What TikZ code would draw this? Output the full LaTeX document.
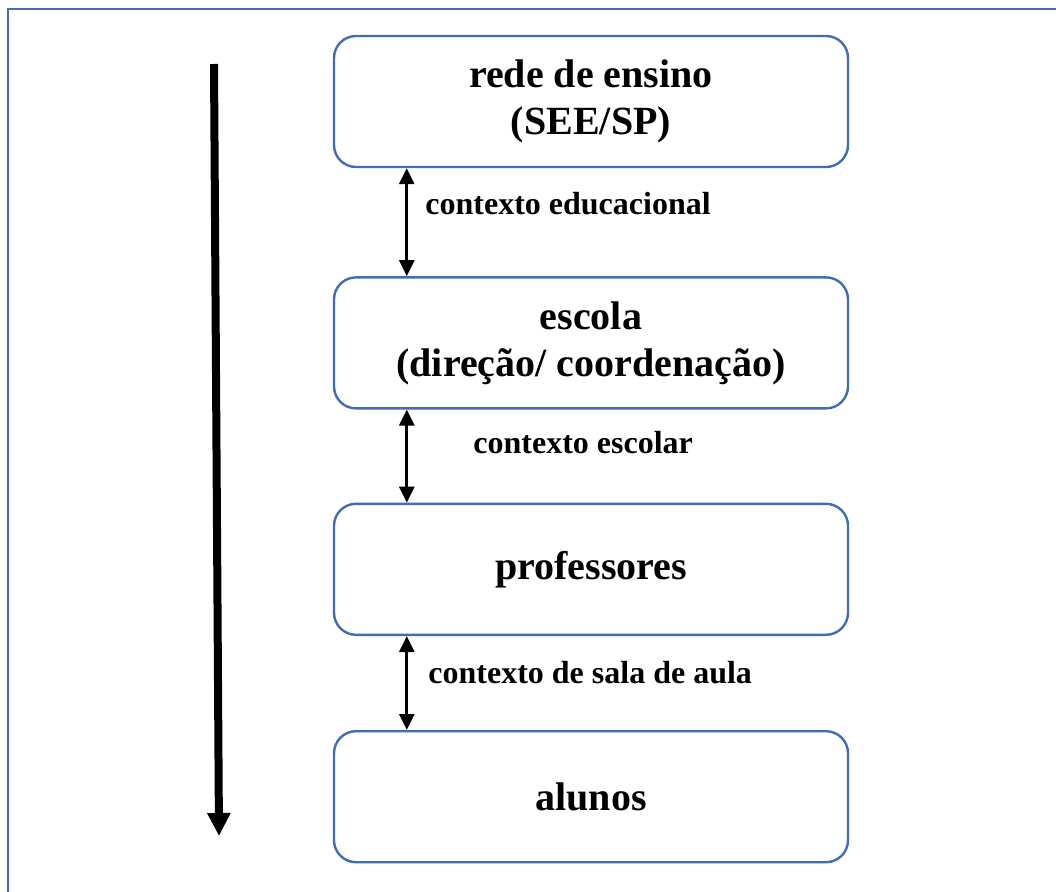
\documentclass[tikz,border=0pt]{standalone}
\usepackage{fontspec}
\setmainfont{Liberation Serif}
\usetikzlibrary{arrows.meta, positioning}
\definecolor{azul}{RGB}{66,109,178}

\begin{document}
\begin{tikzpicture}[x=0.5pt, y=0.5pt,
    caixa/.style={draw=azul, line width=1.2pt, rounded corners=11pt,
        minimum width=257pt, minimum height=65.5pt, align=center,
        font=\bfseries\fontsize{20}{23.5}\selectfont},
    contexto/.style={anchor=base west, inner sep=0pt,
        font=\bfseries\fontsize{16}{19}\selectfont},
    seta/.style={line width=1.4pt,
        {Triangle[width=7.5pt,length=8pt]}-{Triangle[width=7.5pt,length=8pt]}}]
    \useasboundingbox (0,0) rectangle (1056,891);
    \draw[azul, line width=1pt] (8,882) rectangle (1080,-30);

    % níveis, de cima para baixo
    \node[caixa] (rede) at (591,789.5) {rede de ensino\\(SEE/SP)};
    \node[caixa, below=54pt of rede]          (escola)      {escola\\(direção/ coordenação)};
    \node[caixa, below=46.5pt of escola]      (professores) {professores};
    \node[caixa, below=47pt of professores]   (alunos)      {alunos};

    \draw[seta] ([xshift=37pt]rede.south west) -- ([xshift=37pt]escola.north west);
    \draw[seta] ([xshift=37pt]escola.south west) -- ([xshift=37pt]professores.north west);
    \draw[seta] ([xshift=37pt]professores.south west) -- ([xshift=37pt]alunos.north west);

    \node[contexto] (educacional) at (425,676) {contexto educacional};
    \node[contexto] (escolar)     at (473,438) {contexto escolar};
    \node[contexto] (sala)        at (428,208) {contexto de sala de aula};

    \coordinate (topo) at (214,827);
    \coordinate (fim)  at (219,55);
    \draw[line width=4pt, -{Triangle[width=11pt,length=11.5pt]}] (topo) -- (fim);
\end{tikzpicture}
\end{document}
